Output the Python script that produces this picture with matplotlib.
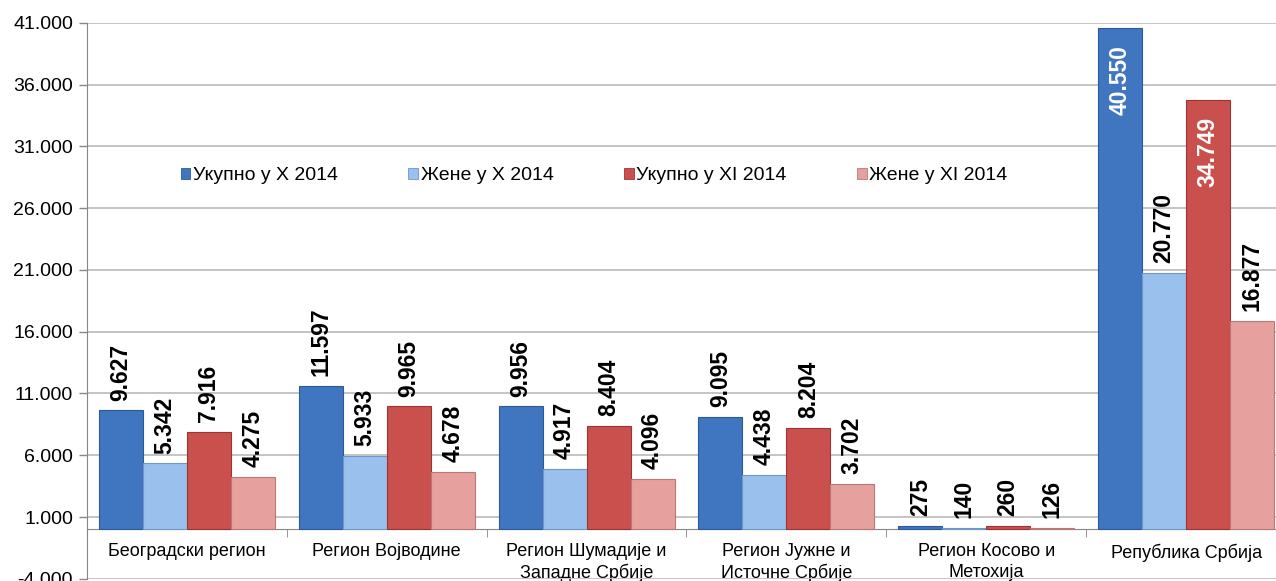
import numpy as np
import matplotlib
matplotlib.use("Agg")
import matplotlib.pyplot as plt
from matplotlib.patches import Patch
from matplotlib.ticker import FuncFormatter, FixedLocator

plt.rcParams['font.family'] = ['Liberation Sans', 'DejaVu Sans']

# data
regions = [
    "Београдски регион",
    "Регион Војводине",
    "Регион Шумадије и\nЗападне Србије",
    "Регион Јужне и\nИсточне Србије",
    "Регион Косово и\nМетохија",
    "Република Србија",
]
series_names = ["Укупно у X 2014", "Жене у X 2014", "Укупно у XI 2014", "Жене у XI 2014"]
ukupno_x = [9627, 11597, 9956, 9095, 275, 40550]
zene_x = [5342, 5933, 4917, 4438, 140, 20770]
ukupno_xi = [7916, 9965, 8404, 8204, 260, 34749]
zene_xi = [4275, 4678, 4096, 3702, 126, 16877]

colors = ['#3f76bf', '#9ac1ee', '#c9504d', '#e6a19f']
edges = ['#2d5a96', '#6f97c7', '#9a3533', '#b97876']


def fmt(v):
    return f"{int(v):,}".replace(",", ".")


fig = plt.figure(figsize=(12.76, 5.81), dpi=100)
ax = fig.add_axes([87 / 1276, 2.2 / 581, 1199 / 1276, 556 / 581])

x = np.arange(len(regions))
width = 0.22
offsets = (np.arange(4) - 1.5) * width
all_series = [ukupno_x, zene_x, ukupno_xi, zene_xi]

for k, vals in enumerate(all_series):
    ax.bar(x + offsets[k], vals, width, color=colors[k], edgecolor=edges[k],
           linewidth=0.8, zorder=3)
    for xi, v in zip(x + offsets[k], vals):
        if v > 30000:
            # label inside the bar top
            ax.annotate(fmt(v), (xi, v), xytext=(0, -12), textcoords='offset points',
                        rotation=90, ha='center', va='top', fontsize=16.5,
                        fontweight='bold', color='white', zorder=4)
        else:
            ax.annotate(fmt(v), (xi, v), xytext=(0, 7), textcoords='offset points',
                        rotation=90, ha='center', va='bottom', fontsize=16.5,
                        fontweight='bold', color='black', zorder=4)

ax.set_xlim(-0.5, len(regions) - 0.5)
ax.set_ylim(-4000, 41000)
ax.yaxis.set_major_locator(FixedLocator(np.arange(-4000, 41001, 5000)))
ax.yaxis.set_major_formatter(FuncFormatter(lambda v, p: fmt(v)))
ax.grid(axis='y', color='#c4c4c4', linewidth=1.4, zorder=0)
ax.tick_params(axis='y', labelsize=14, length=6, color='#868686', width=1, pad=4)

# category axis crosses at zero
ax.spines['bottom'].set_position(('data', 0))
ax.spines['bottom'].set_color('#868686')
ax.spines['left'].set_color('#868686')
ax.spines['top'].set_visible(False)
ax.spines['right'].set_visible(False)
ax.set_xticks(x)
ax.set_xticklabels(regions, fontsize=13, linespacing=1.25)
ax.tick_params(axis='x', which='major', length=0, pad=10)
ax.set_xticks(np.arange(-0.5, len(regions)), minor=True)
ax.tick_params(axis='x', which='minor', length=6, color='#868686', direction='out')

handles = [Patch(facecolor=c, edgecolor=e, linewidth=0.6) for c, e in zip(colors, edges)]
ax.legend(handles, series_names, loc='center', bbox_to_anchor=(0.423, 0.725), ncol=4,
          frameon=False, fontsize=14, handlelength=0.5, handleheight=0.5,
          handletextpad=0.15, columnspacing=3.6)

fig.savefig("out.png", dpi=100)
